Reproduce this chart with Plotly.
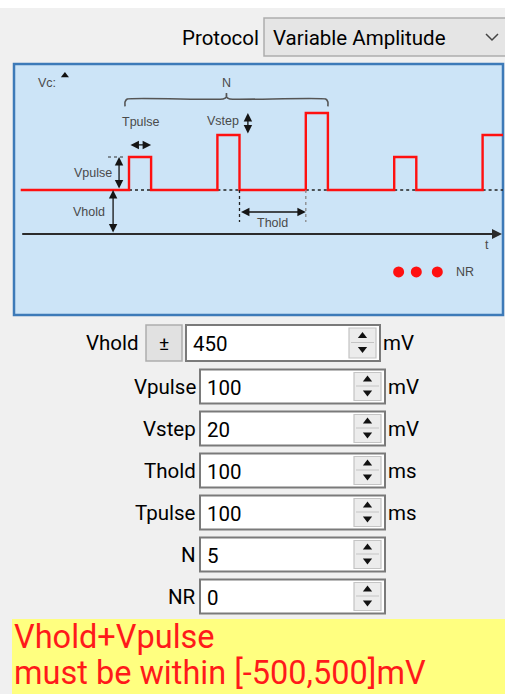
import plotly.graph_objects as go

W, H = 505, 694

# ---------------- data ----------------
protocol_label = "Protocol"
protocol_value = "Variable Amplitude"
field_labels = ["Vhold", "Vpulse", "Vstep", "Thold", "Tpulse", "N", "NR"]
field_values = ["450", "100", "20", "100", "100", "5", "0"]
field_units = ["mV", "mV", "mV", "ms", "ms", "", ""]
warning_lines = ["Vhold+Vpulse", "must be within [-500,500]mV"]

# schematic waveform of the protocol diagram (diagram units)
pulse_starts = [0, 4, 8, 12, 16]
pulse_width = 1
pulse_step_index = [0, 1, 2, 0, 1]
hold_level = 4
pulse_height = 3
step_height = 2
trace_start = -4.9
trace_end = 17.5
nr_dots_t = [12.2, 13.0, 13.95]
nr_dots_v = -3.45

# ---------------- layout constants (pixels) ----------------
PANEL = dict(x0=14, x1=503, y0=64, y1=315)
T_ORIGIN_PX, T_UNIT_PX = 129, 22.1
V_ORIGIN_PX, V_UNIT_PX = 234, 11.0

UI_FONT = "Roboto, 'Segoe UI', sans-serif"
DIA_FONT = "'Liberation Sans', Arial, sans-serif"

fig = go.Figure()
shapes = []
annotations = []


def rect(x0, y0, x1, y1, fill, line=None, lw=1, layer="below"):
    shapes.append(dict(type="rect", xref="x", yref="y", x0=x0, y0=y0, x1=x1, y1=y1,
                       fillcolor=fill, line=dict(color=line or fill, width=lw if line else 0),
                       layer=layer))


def text(x, y, s, size, color="#000", anchor="left", font=UI_FONT, xref="x", yref="y"):
    annotations.append(dict(x=x, y=y, xref=xref, yref=yref, text=s, showarrow=False,
                            xanchor=anchor, yanchor="middle",
                            font=dict(family=font, size=size, color=color)))


# ---------------- top combobox ----------------
rect(0, 0, W, 8, "#ffffff")
text(261, 38, protocol_label, 20.5, anchor="right")
rect(264, 18, W + 5, 56, "#e5e5e5", "#adadad", 1.5)
text(271, 38, protocol_value, 20.5, anchor="left")
shapes.append(dict(type="path", xref="x", yref="y", path="M 486 34 L 492 40 L 498 34",
                   line=dict(color="#444", width=1.5)))

# ---------------- diagram panel ----------------
rect(PANEL["x0"], PANEL["y0"], PANEL["x1"], PANEL["y1"], "#cce4f7", "#3d7ab8", 2.5)

# ---------------- form rows ----------------
row_cy = [343, 386.5, 428.5, 470.5, 512.5, 554.5, 596.5]
spin_x, spin_y = [], []
spin_dn_x, spin_dn_y = [], []
for i, (lab, val, unit) in enumerate(zip(field_labels, field_values, field_units)):
    cy = row_cy[i]
    if i == 0:
        bl, br, hh, lab_r = 186, 380, 18, 141
        rect(146, cy - hh, 182, cy + hh, "#e1e1e1", "#adadad", 1.5)
        text(164, cy, "±", 19, anchor="center")
    else:
        bl, br, hh, lab_r = 200, 385, 17, 198
    rect(bl, cy - hh, br, cy + hh, "#ffffff", "#7a7a7a", 2)
    sr = br - 4
    sl = sr - 27
    rect(sl, cy - hh + 3, sr, cy + hh - 3, "#ececec", "#c4c4c4", 1.2)
    shapes.append(dict(type="line", xref="x", yref="y", x0=sl + 2, x1=sr - 2, y0=cy - 0.5, y1=cy - 0.5,
                       line=dict(color="#c4c4c4", width=1)))
    spin_x.append((sl + sr) / 2)
    spin_y.append(cy - 7)
    spin_dn_x.append((sl + sr) / 2)
    spin_dn_y.append(cy + 6)
    text(lab_r, cy, lab, 20.5, anchor="right")
    text(bl + 5, cy + 1, val, 20.5, anchor="left")
    if unit:
        text(br + 1, cy, unit, 20.5, anchor="left")

fig.add_trace(go.Scatter(x=spin_x, y=spin_y, mode="markers", hoverinfo="skip",
                         marker=dict(symbol="triangle-up", size=8, color="#111"),
                         xaxis="x", yaxis="y", showlegend=False))
fig.add_trace(go.Scatter(x=spin_dn_x, y=spin_dn_y, mode="markers", hoverinfo="skip",
                         marker=dict(symbol="triangle-down", size=8, color="#111"),
                         xaxis="x", yaxis="y", showlegend=False))

# ---------------- warning box ----------------
rect(12, 619, W + 5, H + 5, "#ffff80")
text(12, 637, warning_lines[0], 32.5, color="#ff1a1a")
text(12, 673, warning_lines[1], 32.5, color="#ff1a1a")

# ---------------- diagram content (x2 / y2 in diagram units) ----------------
wx, wy = [trace_start], [hold_level]
dot_x, dot_y = [], []
for s, k in zip(pulse_starts, pulse_step_index):
    top = hold_level + pulse_height + k * step_height
    wx += [s, s, s + pulse_width, s + pulse_width]
    wy += [hold_level, top, top, hold_level]
    dot_x += [s, s + pulse_width, None]
    dot_y += [hold_level, hold_level, None]
wx.append(trace_end)
wy.append(hold_level)

fig.add_trace(go.Scatter(x=dot_x, y=dot_y, mode="lines", hoverinfo="skip", showlegend=False,
                         line=dict(color="#222", width=1.6, dash="dot"), xaxis="x2", yaxis="y2"))
fig.add_trace(go.Scatter(x=wx, y=wy, mode="lines", hoverinfo="skip", showlegend=False,
                         line=dict(color="#ff1010", width=2.4), xaxis="x2", yaxis="y2"))

t_end = (502 - T_ORIGIN_PX) / T_UNIT_PX
# time axis arrow
annotations.append(dict(x=t_end, y=0, ax=trace_start, ay=0, xref="x2", yref="y2",
                        axref="x2", ayref="y2", text="", showarrow=True, arrowhead=2,
                        arrowsize=1, arrowwidth=2, arrowcolor="#2b2b2b"))


def darrow(x0, y0, x1, y1, color="#151515", width=1.3):
    annotations.append(dict(x=x1, y=y1, ax=x0, ay=y0, xref="x2", yref="y2",
                            axref="x2", ayref="y2", text="", showarrow=True,
                            arrowhead=2, startarrowhead=2, arrowside="end+start",
                            arrowsize=1.3, startarrowsize=1.3, arrowwidth=width, arrowcolor=color))


def dtext(t, v, s, size=12.5, color="#4a4a4a", anchor="center"):
    text(t, v, s, size, color=color, anchor=anchor, font=DIA_FONT, xref="x2", yref="y2")


p1, p2, p3 = pulse_starts[0], pulse_starts[1], pulse_starts[2]
top1 = hold_level + pulse_height
top2 = top1 + step_height

# Vhold
darrow(-0.72, 0, -0.72, hold_level)
dtext(-1.0, 2.0, "Vhold", anchor="right")
# Vpulse
darrow(-0.45, hold_level, -0.45, top1)
shapes.append(dict(type="line", xref="x2", yref="y2", x0=-0.95, x1=-0.15, y0=top1, y1=top1,
                   line=dict(color="#333", width=1.2, dash="dot")))
dtext(-0.7, 5.5, "Vpulse", anchor="right")
# Tpulse
darrow(p1, 8.1, p1 + pulse_width, 8.1)
dtext(p1 + 0.55, 10.2, "Tpulse")
# Vstep
darrow(p2 + pulse_width + 0.38, top2, p2 + pulse_width + 0.38, top2 + step_height)
dtext(p2 + 0.25, 10.3, "Vstep")
# Thold
for tx, col in [(p2 + pulse_width, "#222"), (p3, "#888")]:
    shapes.append(dict(type="line", xref="x2", yref="y2", x0=tx, x1=tx, y0=hold_level, y1=1.1,
                       line=dict(color=col, width=1.3, dash="dot")))
darrow(p2 + pulse_width, 2.0, p3, 2.0)
dtext((p2 + pulse_width + p3) / 2, 1.0, "Thold")

# N brace over the first three pulses
b0 = p1 - 0.18
b1 = p3 + pulse_width
bm = (b0 + b1) / 2
by = 12.27
brace_x = [b0, b0, b0 + 0.1, bm - 0.15, bm, bm, bm, bm + 0.15, b1 - 0.1, b1, b1]
brace_y = [11.6, 12.0, by, by, by + 0.2, by + 0.55, by + 0.2, by, by, 12.0, 11.6]
fig.add_trace(go.Scatter(x=brace_x, y=brace_y, mode="lines", hoverinfo="skip", showlegend=False,
                         line=dict(color="#555", width=1.6, shape="spline", smoothing=0.4),
                         xaxis="x2", yaxis="y2"))
dtext(bm, 13.7, "N")

# V axis label and arrow tip
dtext(-3.7, 13.7, "Vc:")
fig.add_trace(go.Scatter(x=[-2.9], y=[14.4], mode="markers", hoverinfo="skip", showlegend=False,
                         marker=dict(symbol="triangle-up", size=7, color="#111"),
                         xaxis="x2", yaxis="y2"))
# t label
dtext(16.2, -1.0, "t")
# NR dots
fig.add_trace(go.Scatter(x=nr_dots_t, y=[nr_dots_v] * len(nr_dots_t), mode="markers",
                         hoverinfo="skip", showlegend=False,
                         marker=dict(size=11, color="#ff1010"), xaxis="x2", yaxis="y2"))
dtext(15.2, nr_dots_v, "NR")

# ---------------- axes ----------------
fig.update_layout(
    width=W, height=H,
    margin=dict(l=0, r=0, t=0, b=0),
    paper_bgcolor="#f0f0f0",
    plot_bgcolor="rgba(0,0,0,0)",
    showlegend=False,
    xaxis=dict(range=[0, W], domain=[0, 1], visible=False, fixedrange=True),
    yaxis=dict(range=[H, 0], domain=[0, 1], visible=False, fixedrange=True),
    xaxis2=dict(range=[(PANEL["x0"] - T_ORIGIN_PX) / T_UNIT_PX, (PANEL["x1"] - T_ORIGIN_PX) / T_UNIT_PX],
                domain=[PANEL["x0"] / W, PANEL["x1"] / W], anchor="y2", visible=False, fixedrange=True),
    yaxis2=dict(range=[(V_ORIGIN_PX - PANEL["y1"]) / V_UNIT_PX, (V_ORIGIN_PX - PANEL["y0"]) / V_UNIT_PX],
                domain=[1 - PANEL["y1"] / H, 1 - PANEL["y0"] / H], anchor="x2", visible=False, fixedrange=True),
    shapes=shapes,
    annotations=annotations,
)

fig.write_html(
    "out.html",
    config={"displayModeBar": False},
    post_script="document.body.style.margin='0';document.body.style.overflow='hidden';",
)
